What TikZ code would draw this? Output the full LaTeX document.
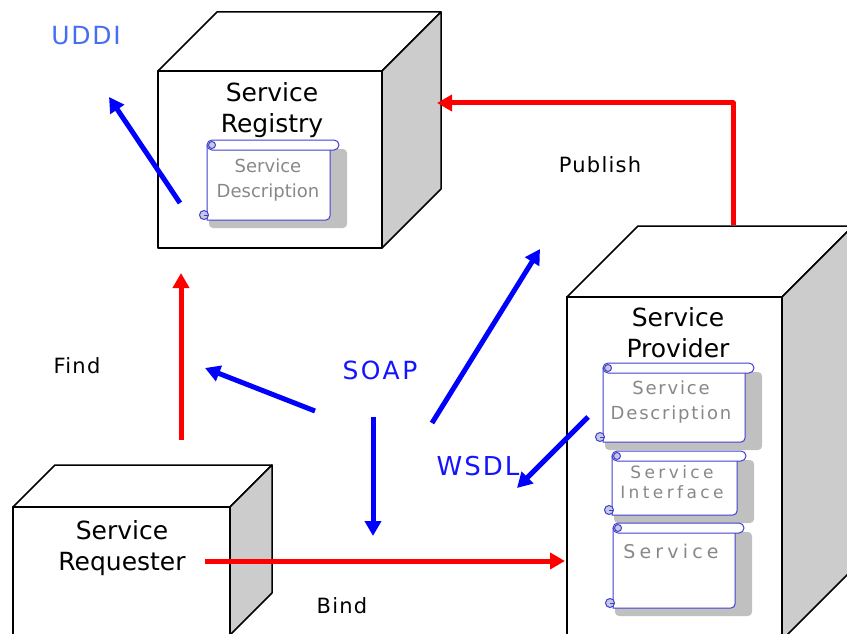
\documentclass[tikz,border=0pt]{standalone}
\usepackage{fontspec}
\setmainfont{DejaVu Sans}
\usetikzlibrary{arrows.meta}

\definecolor{sidegray}{RGB}{204,204,204}
\definecolor{shadowgray}{RGB}{192,192,192}
\definecolor{scrollblue}{RGB}{64,64,208}
\definecolor{curlfill}{RGB}{200,200,224}
\definecolor{soapblue}{RGB}{20,20,255}
\definecolor{uddiblue}{RGB}{70,110,240}
\definecolor{scrolltext}{RGB}{136,136,136}

% front face x1 y1 x2 y2, depth
\newcommand\cubebox[5]{%
	\draw [cubeline, fill = white] (#1, #2) -- ++ (#5, -#5) -- ({#3 + #5}, {#2 - #5}) -- (#3, #2) -- cycle;
	\draw [cubeline, fill = sidegray] (#3, #2) -- ++ (#5, -#5) -- ({#3 + #5}, {#4 - #5}) -- (#3, #4) -- cycle;
	\draw [cubeline, fill = white] (#1, #2) rectangle (#3, #4);
}

% body x1 roll-y x2 y2
\newcommand\scrollbox[4]{%
	\fill [shadowgray, rounded corners = 4pt] ({#1 + 2}, {#2 + 4}) rectangle ({#3 + 17}, {#4 + 8});
	\draw [scrollline, fill = white] (#1, #2) -- (#1, #4) -- ({#3 - 4}, #4) to [out = 0, in = -90] (#3, {#4 - 4}) -- (#3, #2);
	\draw [scrollline, fill = white, rounded corners = 5pt] (#1, {#2 - 5}) rectangle ({#3 + 9}, {#2 + 5});
	\draw [scrollline, fill = curlfill] ({#1 + 5}, #2) circle (3.5pt);
	\draw [scrollline, fill = curlfill] ({#1 - 3}, {#4 - 5}) circle (4.5pt);
	\draw [scrollline] ({#1 - 3}, {#4 - 5}) -- ({#1 + 1}, {#4 - 5});
}

\begin{document}
\begin{tikzpicture}[x = 1pt, y = -1pt,
	cubeline/.style = {line width = 1.5pt, line join = round},
	scrollline/.style = {draw = scrollblue, line width = 1pt},
	boxlabel/.style = {align = center, font = \fontsize{25}{31}\selectfont},
	scrolllabel/.style = {align = center, text = scrolltext, font = \fontsize{18}{25}\selectfont},
	lbl/.style = {font = \fontsize{21}{25}\selectfont\addfontfeatures{LetterSpace = 6}},
	proto/.style = {text = soapblue, font = \fontsize{25}{28}\selectfont\addfontfeatures{LetterSpace = 10}},
	redarrow/.style = {draw = red, line width = 5pt, line join = round, -{Triangle[length = 15pt, width = 16pt]}},
	bluearrow/.style = {draw = blue, line width = 5pt, -{Triangle[length = 15pt, width = 16pt]}}]

\useasboundingbox (0, 0) rectangle (847, 634);

% the three boxes
\cubebox{158}{71}{382}{248}{59}
\cubebox{567}{297}{782}{640}{71}
\cubebox{13}{507}{230}{635}{42}

\node [boxlabel] (registry) at (272, 110) {Service\\Registry};
\node [boxlabel] (provider) at (678, 333) {Service\\Provider};
\node [boxlabel] (requester) at (122, 548) {Service\\Requester};

% documents
\scrollbox{207}{145}{330}{220}
\node [scrolllabel] (regdesc) at (268, 180) {Service\\Description};

\scrollbox{603}{368}{745}{442}
\node [scrolllabel, font = \fontsize{18}{25}\selectfont\addfontfeatures{LetterSpace = 10}] (provdesc) at (671, 402) {Service\\Description};

\scrollbox{612}{456}{737}{515}
\node [scrolllabel, font = \fontsize{17}{20}\selectfont\addfontfeatures{LetterSpace = 20}] (provintf) at (672, 482) {Service\\Interface};

\scrollbox{613}{528}{735}{608}
\node [scrolllabel, font = \fontsize{19}{22}\selectfont\addfontfeatures{LetterSpace = 22}] (provsvc) at (671, 551) {Service};

% labels
\node [lbl] (publish) at (600, 165) {Publish};
\node [lbl] (find) at (77, 366) {Find};
\node [lbl] (bind) at (342, 606) {Bind};
\node [proto] (soap) at (380, 370) {SOAP};
\node [proto, font = \fontsize{26}{28}\selectfont\addfontfeatures{LetterSpace = 8}] (wsdl) at (478, 466) {WSDL};
\node [proto, text = uddiblue, font = \fontsize{25}{28}\selectfont\addfontfeatures{LetterSpace = 7}] (uddi) at (86, 36) {UDDI};

% arrow ends
\coordinate (pubS) at (733, 225);
\coordinate (pubE) at (437, 103);
\coordinate (findS) at (181, 440);
\coordinate (findE) at (181, 273);
\coordinate (bindS) at (205, 561);
\coordinate (bindE) at (565, 561);
\coordinate (uddiS) at (180, 203);
\coordinate (uddiE) at (109, 97);
\coordinate (soapL) at (315, 411);
\coordinate (soapLE) at (205, 368);
\coordinate (soapD) at (373, 417);
\coordinate (soapDE) at (373, 536);
\coordinate (soapU) at (432, 423);
\coordinate (soapUE) at (540, 249);
\coordinate (wsdlS) at (588, 417);
\coordinate (wsdlE) at (517, 488);

\draw [redarrow] (pubS) |- (pubE);
\draw [redarrow] (findS) -- (findE);
\draw [redarrow] (bindS) -- (bindE);
\draw [bluearrow] (uddiS) -- (uddiE);
\draw [bluearrow] (soapL) -- (soapLE);
\draw [bluearrow] (soapD) -- (soapDE);
\draw [bluearrow] (soapU) -- (soapUE);
\draw [bluearrow] (wsdlS) -- (wsdlE);

\end{tikzpicture}
\end{document}
